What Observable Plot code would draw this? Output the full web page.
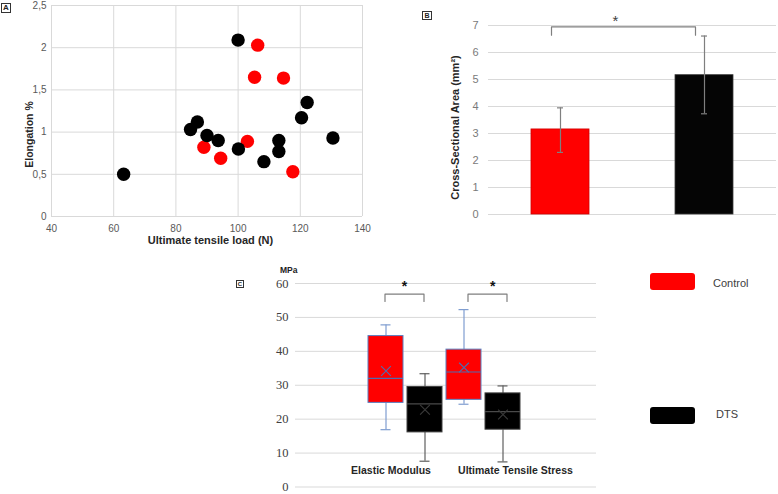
<!DOCTYPE html>
<html><head><meta charset="utf-8">
<script src="https://cdn.jsdelivr.net/npm/d3@7"></script>
<script src="https://cdn.jsdelivr.net/npm/@observablehq/plot@0.6"></script>
<style>
body{margin:0;background:#fff;width:778px;height:494px;position:relative;overflow:hidden;font-family:"Liberation Sans",Arial,sans-serif}
.panel{position:absolute}
.tag{position:absolute;border:1px solid #333;font-weight:bold;text-align:center;color:#222;box-sizing:border-box}
.sw{position:absolute;width:45px;height:17px;border-radius:3px}
.lt{position:absolute;font-size:11px;color:#404040;line-height:12px}
</style></head><body>
<div id="A" class="panel" style="left:0;top:0"></div>
<div id="B" class="panel" style="left:420px;top:0"></div>
<div id="C" class="panel" style="left:230px;top:260px"></div>
<div class="tag" style="left:1px;top:3px;width:10px;height:10px;font-size:8px;line-height:8px">A</div>
<div class="tag" style="left:422px;top:11px;width:10px;height:9px;font-size:7px;line-height:7px">B</div>
<div class="tag" style="left:236px;top:280px;width:8px;height:8px;font-size:6px;line-height:6px">C</div>
<div style="position:absolute;left:280px;top:265px;font-size:8.5px;font-weight:bold;color:#222">MPa</div>
<div class="sw" style="left:650px;top:273px;background:#ff0000"></div>
<div class="lt" style="left:713px;top:277px">Control</div>
<div class="sw" style="left:650px;top:407px;background:#000"></div>
<div class="lt" style="left:716px;top:408px">DTS</div>
<script>
// ---- Panel A data ----
const xTicksA = [40, 60, 80, 100, 120, 140];
const yTicksA = [0, 0.5, 1, 1.5, 2, 2.5];
const controlLoad  = [106.3, 105.3, 114.6, 89.0, 103.0, 94.4, 117.6];
const controlElong = [2.03, 1.65, 1.64, 0.82, 0.89, 0.69, 0.53];
const dtsLoad  = [63.2, 100.0, 84.7, 86.9, 90.0, 93.6, 100.1, 108.3, 113.1, 113.1, 120.4, 122.2, 130.5];
const dtsElong = [0.50, 2.09, 1.03, 1.12, 0.96, 0.90, 0.80, 0.65, 0.90, 0.77, 1.17, 1.35, 0.93];

// ---- Panel B data ----
const groups = ["Control", "DTS"];
const areaMean = [3.15, 5.16];
const areaLo = [2.30, 3.73];
const areaHi = [3.95, 6.61];
const yTicksB = [0, 1, 2, 3, 4, 5, 6, 7];
const bracketBLow = 6.64, bracketBHigh = 6.95;

// ---- Panel C data ----
const boxKeys = ["EM-Control", "EM-DTS", "UTS-Control", "UTS-DTS"];
const boxGroup = ["Control", "DTS", "Control", "DTS"];
const boxLo  = [16.9, 7.6, 24.4, 7.4];
const boxQ1  = [24.8, 16.1, 25.7, 16.9];
const boxMed = [32.0, 24.5, 33.9, 22.2];
const boxQ3  = [44.5, 29.5, 40.5, 27.6];
const boxHi  = [47.8, 33.4, 52.3, 29.8];
const boxMean = [34.2, 22.8, 35.2, 21.4];
const yTicksC = [0, 10, 20, 30, 40, 50, 60];
const categoriesC = ["Elastic Modulus", "Ultimate Tensile Stress"];
const bracketCLow = 54.7, bracketCHigh = 56.85;

const sans = "Liberation Sans, Arial, sans-serif";
const fillOf = {Control: "#ff0000", DTS: "#000000"};
const mid = {textAnchor: "middle", lineAnchor: "middle"};

// ---------- Panel A ----------
const ctrlPts = controlLoad.map((x, i) => ({x, y: controlElong[i]}));
const dtsPts = dtsLoad.map((x, i) => ({x, y: dtsElong[i]}));
const plotA = Plot.plot({
  width: 400, height: 250, marginLeft: 51, marginRight: 38, marginTop: 5, marginBottom: 34,
  style: {fontFamily: sans, fontSize: "10px", color: "#595959", background: "transparent"},
  x: {domain: [40, 140], ticks: xTicksA, tickSize: 0, tickPadding: 8, label: null, tickFormat: d => String(d)},
  y: {domain: [0, 2.5], ticks: yTicksA, tickSize: 0, tickPadding: 5, label: null,
      tickFormat: d => String(d).replace(".", ",")},
  marks: [
    Plot.ruleX(xTicksA, {stroke: "#d9d9d9"}),
    Plot.ruleY(yTicksA, {stroke: "#d9d9d9"}),
    Plot.dot(ctrlPts, {x: "x", y: "y", r: 6.7, fill: fillOf.Control}),
    Plot.dot(dtsPts, {x: "x", y: "y", r: 6.7, fill: fillOf.DTS}),
    Plot.text(["Elongation %"], {...mid, frameAnchor: "left", dx: -22, dy: 23.5, rotate: -90,
      fontWeight: "bold", fontSize: 10.5, fill: "#262626"}),
    Plot.text(["Ultimate tensile load (N)"], {...mid, frameAnchor: "bottom", dx: 3.5, dy: 24,
      fontWeight: "bold", fontSize: 11, fill: "#262626"})
  ]
});
document.getElementById("A").append(plotA);

// ---------- Panel B ----------
const tableB = groups.map((g, i) => ({group: g, mean: areaMean[i], lo: areaLo[i], hi: areaHi[i]}));
const bracketB = [
  {x: groups[0], y: bracketBLow}, {x: groups[0], y: bracketBHigh},
  {x: groups[1], y: bracketBHigh}, {x: groups[1], y: bracketBLow}
];
const plotB = Plot.plot({
  width: 358, height: 240, marginLeft: 68, marginRight: 2, marginTop: 25, marginBottom: 26,
  style: {fontFamily: sans, fontSize: "11px", color: "#7a7a7a", background: "transparent"},
  x: {domain: groups, paddingInner: 0.6, paddingOuter: 0.3, axis: null},
  y: {domain: [0, 7], ticks: yTicksB, tickSize: 0, tickPadding: 10, label: null, tickFormat: d => String(d)},
  marks: [
    Plot.ruleY(yTicksB, {stroke: "#d9d9d9"}),
    Plot.barY(tableB.filter(d => d.group === "Control"), {x: "group", y: "mean", fill: fillOf.Control, stroke: "#d00000", strokeWidth: 0.8}),
    Plot.barY(tableB.filter(d => d.group === "DTS"), {x: "group", y: "mean", fill: "#050505", stroke: "#3a3a3a", strokeWidth: 0.8}),
    Plot.ruleX(tableB, {x: "group", y1: "lo", y2: "hi", stroke: "#7f7f7f", strokeWidth: 1.2}),
    Plot.tickY(tableB, {x: "group", y: "lo", stroke: "#7f7f7f", strokeWidth: 1.2, insetLeft: 26, insetRight: 26}),
    Plot.tickY(tableB, {x: "group", y: "hi", stroke: "#7f7f7f", strokeWidth: 1.2, insetLeft: 26, insetRight: 26}),
    Plot.line(bracketB, {x: "x", y: "y", dx: -9, stroke: "#7f7f7f", strokeWidth: 1.2}),
    Plot.text(["*"], {...mid, frameAnchor: "top", dx: -17, dy: -4.5, fontSize: 15, fill: "#404040"}),
    Plot.text(["Cross-Sectional Area (mm²)"], {...mid, frameAnchor: "left", dx: -33, dy: 7.5, rotate: -90,
      fontWeight: "bold", fontSize: 11, fill: "#262626"})
  ]
});
document.getElementById("B").append(plotB);

// ---------- Panel C ----------
const boxes = boxKeys.map((k, i) => ({key: k, group: boxGroup[i], lo: boxLo[i], q1: boxQ1[i],
  med: boxMed[i], q3: boxQ3[i], hi: boxHi[i], mean: boxMean[i]}));
const styleC = {
  Control: {fill: "#ff0000", stroke: "#5a7fc0", whisker: "#7f9dd0", median: "#4e6db0", mean: "#4e6db0"},
  DTS: {fill: "#000000", stroke: "#3f3f3f", whisker: "#5f5f5f", median: "#4a4a4a", mean: "#3a3a3a"}
};
const marksC = [Plot.ruleY(yTicksC, {stroke: "#d9d9d9"})];
for (const g of groups) {
  const s = styleC[g];
  const data = boxes.filter(d => d.group === g);
  marksC.push(
    Plot.ruleX(data, {x: "key", y1: "q3", y2: "hi", stroke: s.whisker, strokeWidth: 1.2}),
    Plot.ruleX(data, {x: "key", y1: "lo", y2: "q1", stroke: s.whisker, strokeWidth: 1.2}),
    Plot.tickY(data, {x: "key", y: "hi", stroke: s.whisker, strokeWidth: 1.2, insetLeft: 12.5, insetRight: 12.5}),
    Plot.tickY(data, {x: "key", y: "lo", stroke: s.whisker, strokeWidth: 1.2, insetLeft: 12.5, insetRight: 12.5}),
    Plot.barY(data, {x: "key", y1: "q1", y2: "q3", fill: s.fill, stroke: s.stroke, strokeWidth: 1}),
    Plot.tickY(data, {x: "key", y: "med", stroke: s.median, strokeWidth: 1.2}),
    Plot.dot(data, {x: "key", y: "mean", symbol: "times", r: 4.5, stroke: s.mean, strokeWidth: 1.1})
  );
}
const bracketEM = [
  {x: boxKeys[0], y: bracketCLow}, {x: boxKeys[0], y: bracketCHigh},
  {x: boxKeys[1], y: bracketCHigh}, {x: boxKeys[1], y: bracketCLow}
];
const bracketUTS = [
  {x: boxKeys[2], y: bracketCLow}, {x: boxKeys[2], y: bracketCHigh},
  {x: boxKeys[3], y: bracketCHigh}, {x: boxKeys[3], y: bracketCLow}
];
marksC.push(
  Plot.line(bracketEM, {x: "x", y: "y", dx: -1, stroke: "#7f7f7f", strokeWidth: 1.2}),
  Plot.line(bracketUTS, {x: "x", y: "y", dx: 4, stroke: "#7f7f7f", strokeWidth: 1.2}),
  Plot.text(["*"], {...mid, x: () => boxKeys[1], frameAnchor: "top", dx: -20.5, dy: 3, fontSize: 14,
    fontWeight: "bold", fontFamily: sans, fill: "#111"}),
  Plot.text(["*"], {...mid, x: () => boxKeys[3], frameAnchor: "top", dx: -10.4, dy: 3, fontSize: 14,
    fontWeight: "bold", fontFamily: sans, fill: "#111"}),
  Plot.text([categoriesC[0]], {...mid, x: () => boxKeys[0], frameAnchor: "bottom", dx: 5, dy: -16,
    fontFamily: sans, fontWeight: "bold", fontSize: 10.5, fill: "#262626"}),
  Plot.text([categoriesC[1]], {...mid, x: () => boxKeys[3], frameAnchor: "bottom", dx: 12.5, dy: -16,
    fontFamily: sans, fontWeight: "bold", fontSize: 10.5, fill: "#262626"})
);
const plotC = Plot.plot({
  width: 548, height: 240, marginLeft: 65, marginRight: 182, marginTop: 23, marginBottom: 13.5,
  style: {fontFamily: "Liberation Serif, Times New Roman, serif", fontSize: "12.5px", color: "#404040", background: "transparent"},
  x: {domain: boxKeys, range: [136.3, 292.3], paddingInner: 0.1, paddingOuter: 0.05, axis: null},
  y: {domain: [0, 60], ticks: yTicksC, tickSize: 0, tickPadding: 7, label: null, tickFormat: d => String(d)},
  marks: marksC
});
document.getElementById("C").append(plotC);
</script>
</body></html>
